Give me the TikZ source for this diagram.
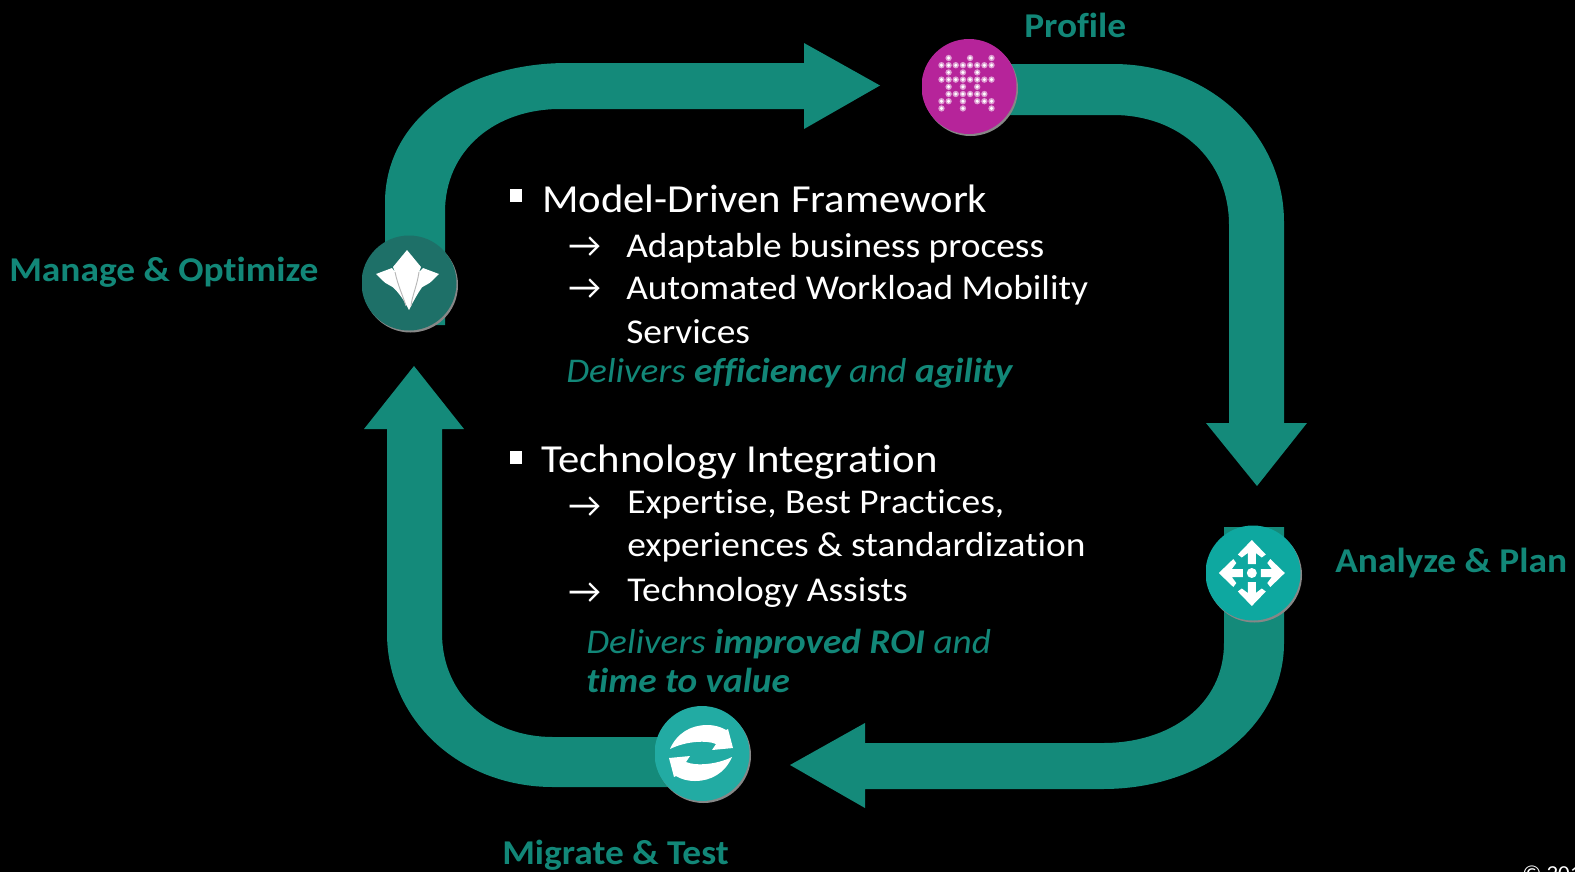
\documentclass[tikz,border=0pt]{standalone}
\usepackage{fontspec}
\setmainfont{Carlito}[FakeStretch=1.075,Ligatures=NoCommon]
\newfontfamily\symb{Carlito}
\definecolor{band}{RGB}{20,138,122}
\definecolor{tealtxt}{RGB}{18,135,120}
\definecolor{mgcol}{RGB}{30,112,104}
\definecolor{prcol}{RGB}{182,36,154}
\definecolor{ancol}{RGB}{14,168,160}
\definecolor{micol}{RGB}{34,171,163}
\definecolor{shgray}{RGB}{135,135,135}
\tikzset{
  bandfill/.style={fill=band,draw=none},
  iconcircle/.style={circle,minimum size=95pt*0.75,inner sep=0pt,draw=none},
  big/.style={anchor=base west,text=white,inner sep=0pt,font=\fontsize{29.8}{32}\selectfont},
  sub/.style={anchor=base west,text=white,inner sep=0pt,font=\fontsize{26.1}{30}\selectfont},
  arrowtxt/.style={anchor=base west,text=white,inner sep=0pt,font=\fontsize{27}{32}\selectfont\symb},
  note/.style={anchor=base west,text=tealtxt,inner sep=0pt,font=\fontsize{26.0}{30}\selectfont\itshape},
  lab/.style={anchor=base west,text=tealtxt,inner sep=0pt,font=\fontsize{26.1}{30}\selectfont\bfseries},
  bulletsq/.style={fill=white,draw=none},
  iconwhite/.style={fill=white,draw=none}
}
\newcommand{\iconbase}[4]{%
  \begin{scope}
    \clip (#1-47,#2-48) rectangle +(110,110);
    \fill[shgray] (#1+1.5,#2+2) circle (47.5);
    \node[iconcircle,fill=#3] (#4) at (#1,#2) {};
  \end{scope}}
\begin{document}
\begin{tikzpicture}[x=0.75pt,y=-0.75pt]
\fill[black] (0,0) rectangle (1575,872);
\useasboundingbox (0,0) rectangle (1575,872);

% top-left arrow
\fill[bandfill] (385,325) -- (385,200) .. controls (387,115) and (470,63) .. (567,63)
  -- (804,63) -- (804,43) -- (880,85.5) -- (804,129) -- (804,109) -- (560,109)
  .. controls (495,109) and (445,150) .. (445,212) -- (445,325) -- cycle;
% top-right arrow
\fill[bandfill] (1000,64) -- (1113,64) .. controls (1210,64) and (1284,135) .. (1284,222)
  -- (1284,423) -- (1307,423) -- (1257,486) -- (1206,423) -- (1229,423) -- (1229,225)
  .. controls (1229,160) and (1180,115) .. (1113,115) -- (1000,115) -- cycle;
% bottom-right arrow
\fill[bandfill] (1224,527) -- (1284,527) -- (1284,643) .. controls (1284,725) and (1205,789) .. (1103,789)
  -- (865,789) -- (865,808) -- (790,765) -- (865,723) -- (865,743) -- (1103,743)
  .. controls (1170,743) and (1224,705) .. (1224,643) -- cycle;
% bottom-left arrow
\fill[bandfill] (700,737) -- (553,737) .. controls (490,737) and (442,695) .. (442,633)
  -- (442,429) -- (464,429) -- (414,366) -- (364,429) -- (387,429) -- (387,633)
  .. controls (387,720) and (460,787) .. (553,787) -- (700,787) -- cycle;

% Manage icon
\iconbase{409}{283}{mgcol}{mgicon}
\begin{scope}[shift={(mgicon.center)}]
  \fill[iconwhite] (-2,-33) -- (12,-16) -- (10,-11) -- (14,-15) -- (30,-9)
    -- (21,-0.3) -- (13,4.3) .. controls (9,10) and (5,17) .. (0,27)
    .. controls (-5,17) and (-10,10) .. (-16,4.3) -- (-24,-0.3) -- (-33,-9)
    -- (-17,-15) -- (-14,-11) -- (-16,-16) -- cycle;
  \draw[black!28,line width=0.7pt] (-14,-11) .. controls (-11,3) and (-6,13) .. (-3,23);
  \draw[black!28,line width=0.7pt] (10,-11) .. controls (8,3) and (3,13) .. (2,23);
\end{scope}

% Profile icon
\iconbase{969}{86.5}{prcol}{pricon}
\begin{scope}[shift={(pricon.center)}]
  \foreach \r/\cols in {0/{1,4,7},1/{0,1,2,3,4,5,6,7},2/{1,3,5},3/{0,1,2,3,4,5,6,7},4/{1,3,5},5/{1,2,3,4,5,6},6/{0,1,3,5,6,7},7/{0,3,7}}{
    \foreach \c in \cols {
      \fill[prcol!45!white] ({(\c-3.5)*7.15-2.5},{(\r-3.5)*7.2-3.3}) circle (3.2);
      \fill[white] ({(\c-3.5)*7.15-2.5},{(\r-3.5)*7.2-3.3}) circle (1.7);
    }
  }
\end{scope}

% Analyze icon
\iconbase{1253}{573}{ancol}{anicon}
\begin{scope}[shift={(anicon.center)}]
  \fill[iconwhite] (-1.2,0) circle (5);
  \foreach \a in {0,90,180,270}{
    \fill[iconwhite,shift={(-1.2,0)},rotate=\a] (0,-33) -- (14,-18.5) -- (10,-15.5) -- (4,-20) -- (4,-9) -- (-4,-9) -- (-4,-20) -- (-10,-15.5) -- (-14,-18.5) -- cycle;
  }
\end{scope}

% Migrate icon
\iconbase{702}{753.5}{micol}{miicon}
\begin{scope}[shift={(miicon.center)}]
  \foreach \a in {0,180}{
    \fill[iconwhite,shift={(-1,-0.5)},rotate=\a] (-31,-4) .. controls (-24,-20) and (-10,-28) .. (6,-28)
      .. controls (14,-28) and (20,-26) .. (25,-23) -- (27,-24) -- (32,-5) -- (11,-3) -- (15,-9)
      .. controls (6,-13) and (-15,-12) .. (-31,-4) -- cycle;
  }
\end{scope}

% Bulleted text
\fill[bulletsq] (509.5,189) rectangle (522,202);
\node[big] (t1) at (542,212) {Model-Driven Framework};
\node[arrowtxt] (a1) at (568,257) {→};
\node[sub] (t2) at (626,257) {Adaptable business process};
\node[arrowtxt] (a2) at (568,299) {→};
\node[sub] (t3) at (626,299) {Automated Workload Mobility};
\node[sub] (t4) at (626,343) {Services};
\node[note] (n1) at (566,382) {Delivers \textbf{\textit{efficiency}} and \textbf{\textit{agility}}};

\fill[bulletsq] (509.5,451) rectangle (522,464);
\node[big] (t5) at (541,472) {Technology Integration};
\node[arrowtxt] (a3) at (568,517) {→};
\node[sub] (t6) at (627,513) {Expertise, Best Practices,};
\node[sub] (t7) at (627,556) {experiences \& standardization};
\node[arrowtxt] (a4) at (568,603) {→};
\node[sub] (t8) at (627,601) {Technology Assists};
\node[note] (n2) at (586,653) {Delivers \textbf{\textit{improved ROI}} and};
\node[note] (n3) at (586,692) {\textbf{\textit{time to value}}};

% Stage labels
\node[lab] (l1) at (1024,37) {Profile};
\node[lab] (l2) at (9,281) {Manage \& Optimize};
\node[lab] (l3) at (1335,572) {Analyze \& Plan};
\node[lab] (l4) at (502,864) {Migrate \& Test};

% Clipped copyright
\begin{scope}
  \clip (0,0) rectangle (1575,872);
  \node[anchor=base west,text=white,inner sep=0pt,font=\fontsize{16}{18}\selectfont] (c) at (1522,880) {© 201};
\end{scope}
\end{tikzpicture}
\end{document}
